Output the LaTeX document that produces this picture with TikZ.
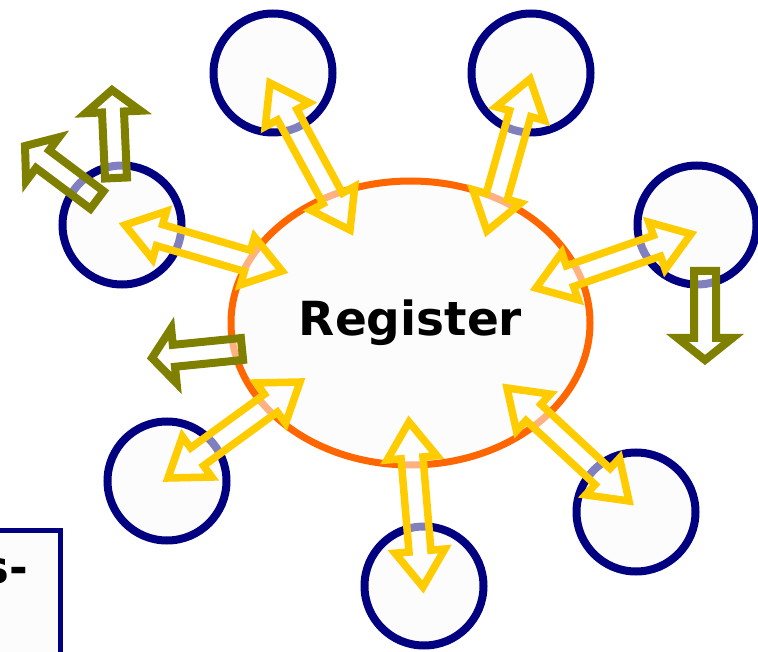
\documentclass[tikz,border=0pt]{standalone}
\usepackage{fontspec}
\setmainfont{DejaVu Sans}
\usetikzlibrary{calc,shapes.geometric}
\definecolor{navy}{HTML}{000080}
\definecolor{regorange}{HTML}{FF6600}
\definecolor{gold}{HTML}{FFCC00}
\definecolor{oliv}{HTML}{808000}
\definecolor{paper}{HTML}{FCFCFC}
\tikzset{
  station/.style={circle,draw=navy,line width=8pt,fill=paper,minimum size=119pt,inner sep=0pt},
  twoway/.style={draw=gold,line width=7.5pt,fill=white,fill opacity=0.5},
  oneway/.style={draw=oliv,line width=8pt,fill=white,fill opacity=0.5},
}
% block arrow with two heads, tip #1 to tip #2
\newcommand\twowayarrow[2]{%
  \draw[twoway] (#1)
    -- ($(#1)!36pt!(#2)!25pt!90:(#2)$) -- ($(#1)!36pt!(#2)!11pt!90:(#2)$)
    -- ($(#2)!36pt!(#1)!11pt!-90:(#1)$) -- ($(#2)!36pt!(#1)!25pt!-90:(#1)$)
    -- (#2)
    -- ($(#2)!36pt!(#1)!25pt!90:(#1)$) -- ($(#2)!36pt!(#1)!11pt!90:(#1)$)
    -- ($(#1)!36pt!(#2)!11pt!-90:(#2)$) -- ($(#1)!36pt!(#2)!25pt!-90:(#2)$)
    -- cycle;}
% block arrow with one head, base #1 to tip #2
\newcommand\onewayarrow[2]{%
  \draw[oneway] ($(#1)!11pt!90:(#2)$)
    -- ($(#2)!22pt!(#1)!11pt!-90:(#1)$) -- ($(#2)!22pt!(#1)!27.5pt!-90:(#1)$)
    -- (#2)
    -- ($(#2)!22pt!(#1)!27.5pt!90:(#1)$) -- ($(#2)!22pt!(#1)!11pt!90:(#1)$)
    -- ($(#1)!11pt!-90:(#2)$) -- cycle;}

\begin{document}
\begin{tikzpicture}[x=1pt,y=-1pt]
  \path[use as bounding box,clip] (0,0) rectangle (758,652);
  % box cut off at the lower left
  \draw[navy,line width=5pt,fill=paper] (-20,530) rectangle (60,690);
  \node[anchor=base east,font=\bfseries\fontsize{45}{50}\selectfont,inner sep=0pt] (cut) at (28,583) {s-};
  % stations round the register
  \node[station] (n1) at (273,73) {};
  \node[station] (n2) at (531,73) {};
  \node[station] (n3) at (697,225) {};
  \node[station] (n4) at (122,225) {};
  \node[station] (n5) at (167,481) {};
  \node[station] (n6) at (636,512) {};
  \node[station] (n7) at (424,586) {};
  \node[ellipse,draw=regorange,line width=7pt,fill=paper,minimum width=359pt,minimum height=284pt,
        font=\bfseries\fontsize{47}{50}\selectfont] (reg) at (410.5,323) {Register};
  % tips of the arrows
  \coordinate (a1) at (270,83);  \coordinate (b1) at (350,230);
  \coordinate (a2) at (530,79);  \coordinate (b2) at (487,231);
  \coordinate (a3) at (691,234); \coordinate (b3) at (536,288);
  \coordinate (a4) at (125,225); \coordinate (b4) at (282,271);
  \coordinate (a5) at (168,478); \coordinate (b5) at (300,382);
  \coordinate (a6) at (409,422); \coordinate (b6) at (423,587);
  \coordinate (a7) at (507,388); \coordinate (b7) at (629,501);
  \foreach \i in {1,...,7}
    \twowayarrow{a\i}{b\i};
  % outgoing arrows
  \coordinate (o1) at (116,178); \coordinate (p1) at (112,90);
  \coordinate (o2) at (97,200);  \coordinate (p2) at (25,146);
  \coordinate (o3) at (705,271); \coordinate (p3) at (705,360);
  \coordinate (o4) at (242,349); \coordinate (p4) at (152,358);
  \foreach \i in {1,...,4}
    \onewayarrow{o\i}{p\i};
\end{tikzpicture}
\end{document}
